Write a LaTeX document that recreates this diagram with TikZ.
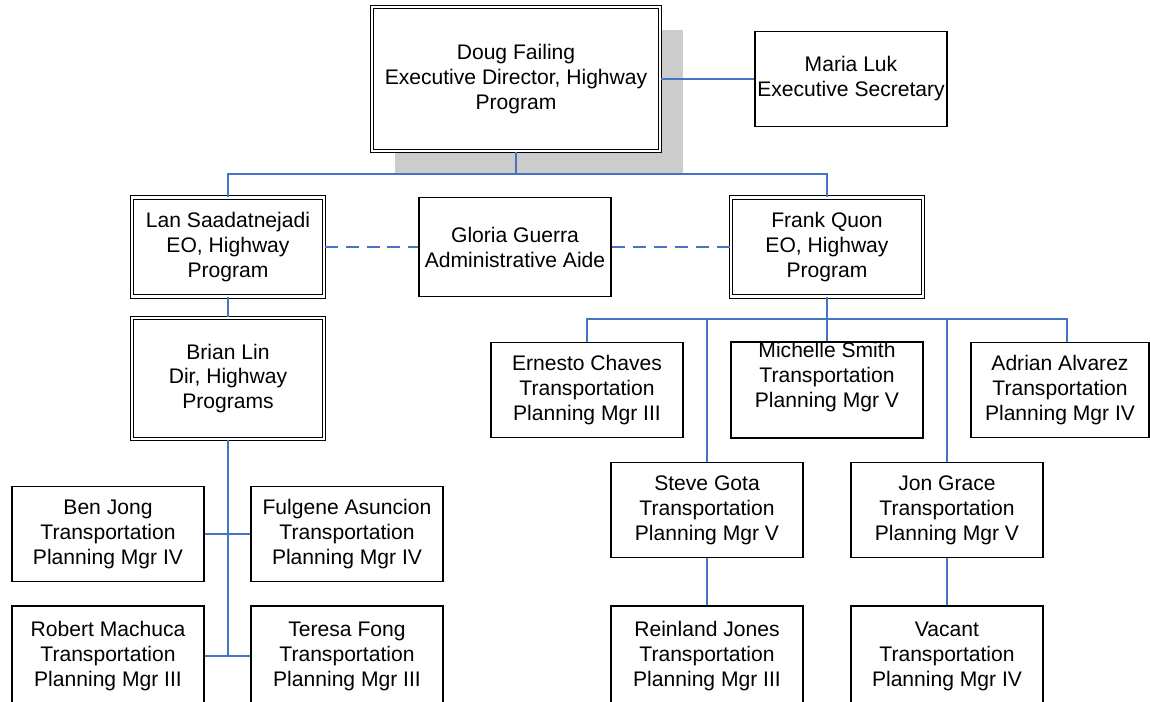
\documentclass[tikz,border=0pt]{standalone}
\usepackage{fontspec}
\setmainfont{Liberation Sans}
\usepackage{xcolor}
\usetikzlibrary{positioning,shadows}

\definecolor{linkblue}{RGB}{70,116,196}
\definecolor{shadegray}{RGB}{204,204,204}

\begin{document}
\begin{tikzpicture}[
  x=0.02cm, y=-0.02cm,
  every node/.style={font=\fontsize{12}{14.2}\selectfont, align=center},
  person/.style={draw, line width=0.7pt, fill=white, inner sep=0pt,
    minimum width=3.84cm, minimum height=1.9cm},
  chief/.style={person, double, double distance=1.5pt, line width=0.6pt,
    minimum height=1.98cm},
  link/.style={draw=linkblue, line width=0.8pt},
  aide/.style={link, line width=1pt, dash pattern=on 0.26cm off 0.16cm}
]
  \path[use as bounding box, clip] (0,0) rectangle (1150,701);

  % top level
  \node[chief, minimum width=5.76cm, minimum height=2.88cm,
    general shadow={fill=shadegray, shadow xshift=0.46cm, shadow yshift=-0.46cm}]
    (doug) at (516,79) {Doug Failing\\Executive Director, Highway\\Program};
  \node[person] (maria) at (851,79) {Maria Luk\\Executive Secretary};

  % second level
  \node[chief] (lan) at (228,247) {Lan Saadatnejadi\\EO, Highway\\Program};
  \node[person, minimum height=1.98cm] (gloria) at (515,247) {Gloria Guerra\\Administrative Aide};
  \node[chief] (frank) at (827,247) {Frank Quon\\EO, Highway\\Program};
  \node[chief, minimum height=2.42cm] (brian) at (228,378.5) {Brian Lin\\Dir, Highway\\Programs};

  % left branch
  \node[person] (ben) at (108,534) {Ben Jong\\Transportation\\Planning Mgr IV};
  \node[person] (fulgene) at (347,534) {Fulgene Asuncion\\Transportation\\Planning Mgr IV};
  \node[person, minimum height=2cm] (robert) at (108,656) {Robert Machuca\\Transportation\\Planning Mgr III};
  \node[person, minimum height=2cm] (teresa) at (347,656) {Teresa Fong\\Transportation\\Planning Mgr III};

  % right branch
  \node[person] (ernesto) at (587,390) {Ernesto Chaves\\Transportation\\Planning Mgr III};
  \node[person, text depth=17.5pt] (michelle) at (827,390) {Michelle Smith\\Transportation\\Planning Mgr V};
  \node[person, minimum width=3.56cm] (adrian) at (1060,390) {Adrian Alvarez\\Transportation\\Planning Mgr IV};
  \node[person] (steve) at (707,510) {Steve Gota\\Transportation\\Planning Mgr V};
  \node[person] (jon) at (947,510) {Jon Grace\\Transportation\\Planning Mgr V};
  \node[person, minimum height=2cm] (reinland) at (707,656) {Reinland Jones\\Transportation\\Planning Mgr III};
  \node[person, minimum height=2cm] (vacant) at (947,656) {Vacant\\Transportation\\Planning Mgr IV};

  % connectors
  \coordinate (topbus) at (516,174);
  \coordinate (frankbus) at (827,319);
  \coordinate (brianbus) at (228,656);
  \coordinate (adriantop) at ([xshift=0.14cm]adrian.north);

  \draw[link] (doug) -- (maria);
  \draw[link] (doug.south) -- (topbus);
  \draw[link] (lan.north) |- (topbus) -| (frank.north);
  \draw[aide] (lan) -- (gloria);
  \draw[aide] (gloria) -- (frank);

  \draw[link] (lan) -- (brian);
  \draw[link] (brian.south) -- (brianbus);
  \draw[link] (ben) -- (fulgene);
  \draw[link] (robert) -- (teresa);

  \draw[link] (frank.south) -- (frankbus);
  \draw[link] (ernesto.north) |- (frankbus) -| (adriantop);
  \draw[link] (frankbus) -- (michelle.north);
  \draw[link] (steve.north) -- (steve.north |- frankbus);
  \draw[link] (jon.north) -- (jon.north |- frankbus);
  \draw[link] (steve) -- (reinland);
  \draw[link] (jon) -- (vacant);
\end{tikzpicture}
\end{document}
